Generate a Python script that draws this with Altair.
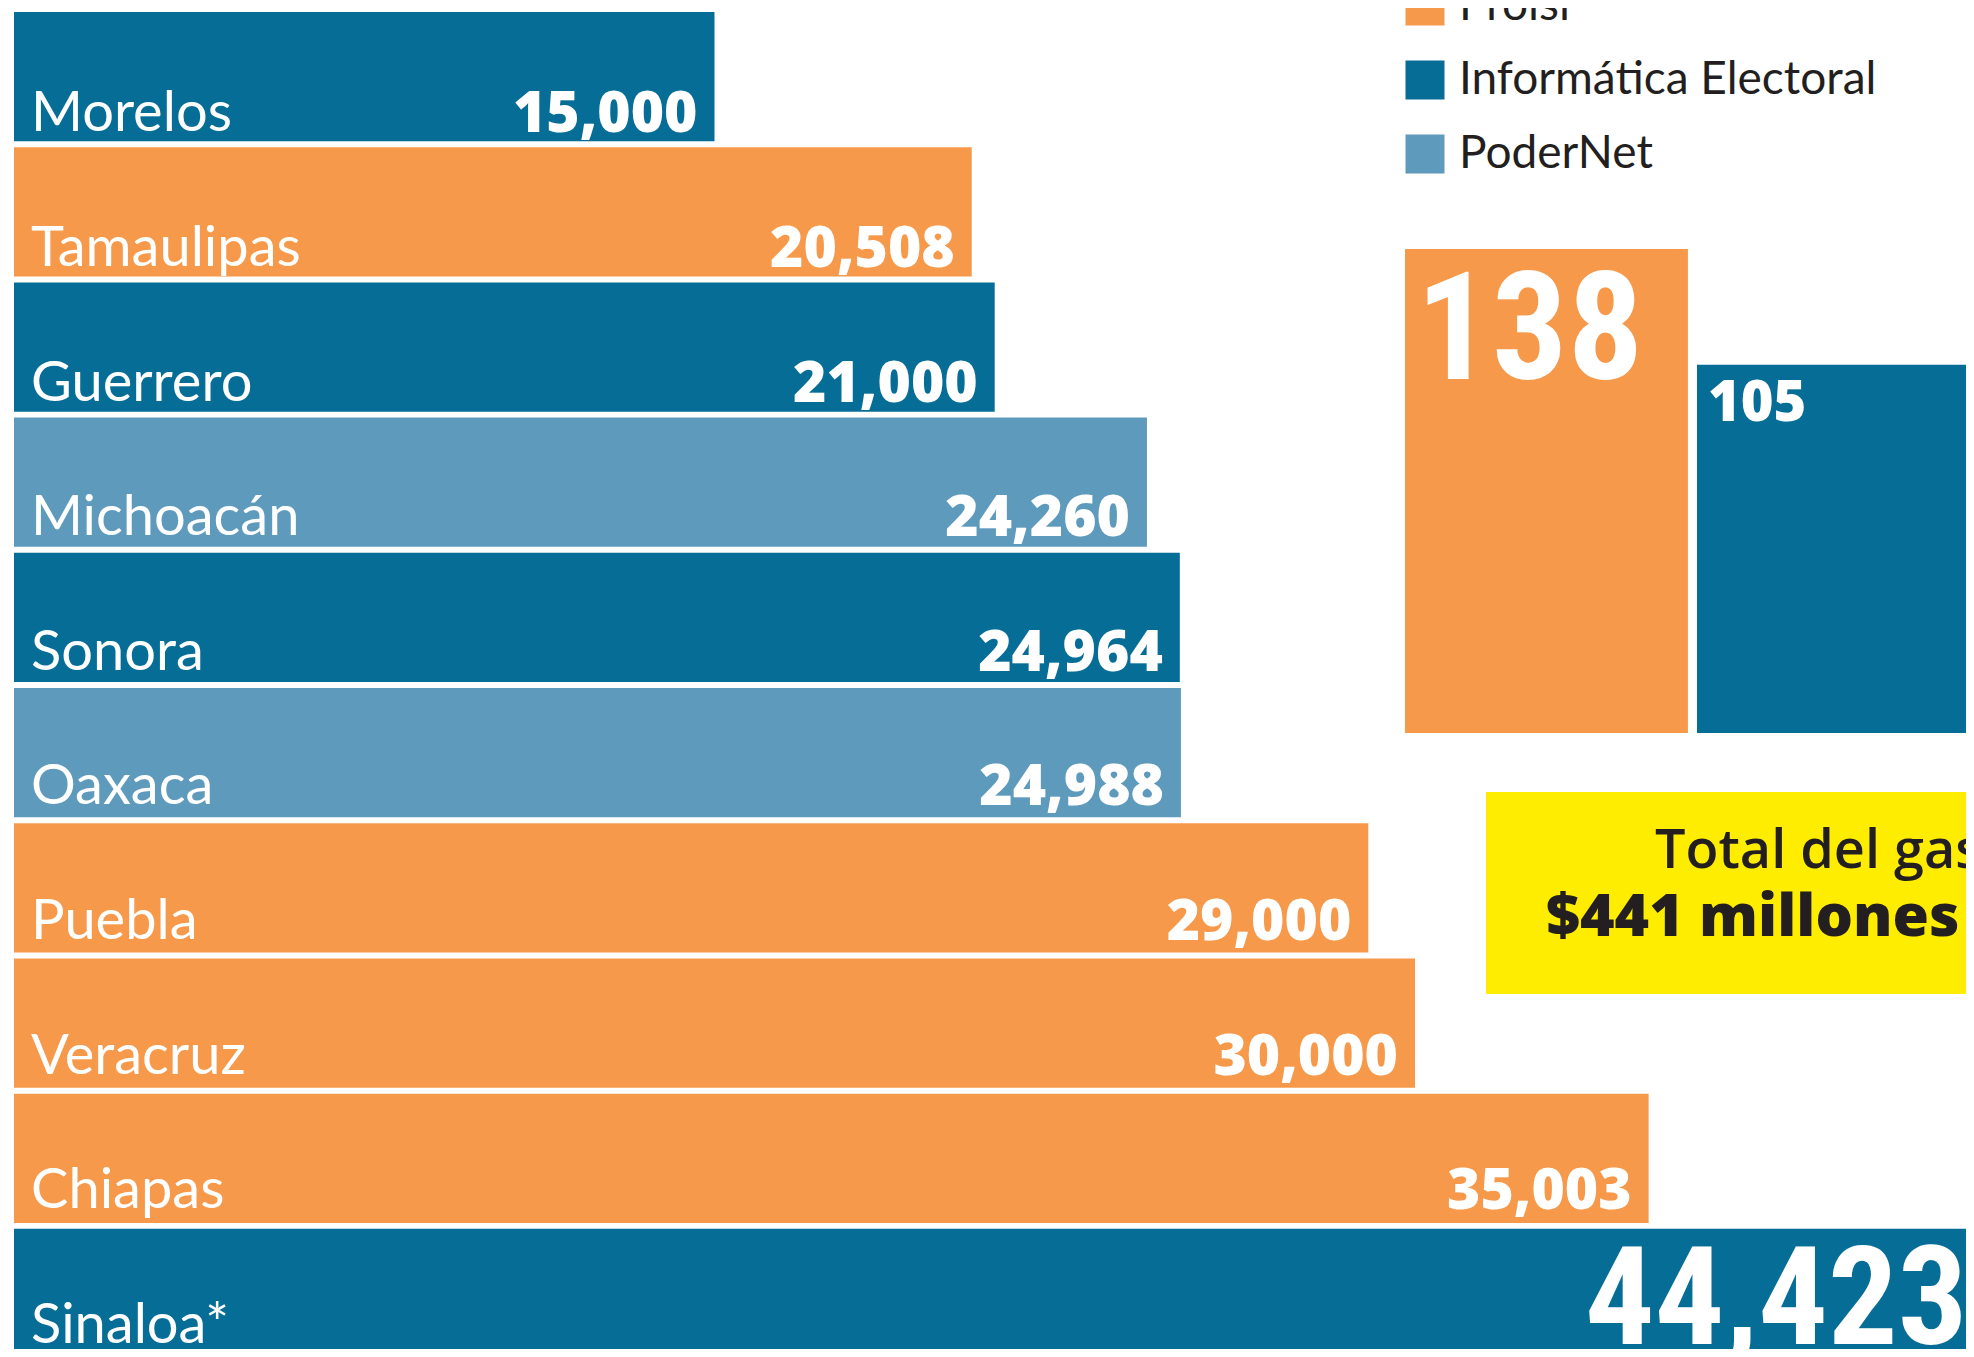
import altair as alt
import pandas as pd

# ---- data ----
states = ["Morelos", "Tamaulipas", "Guerrero", "Michoacán", "Sonora",
          "Oaxaca", "Puebla", "Veracruz", "Chiapas", "Sinaloa*"]
amounts = [15000, 20508, 21000, 24260, 24964, 24988, 29000, 30000, 35003, 44423]
providers = ["Informática Electoral", "Proisi", "Informática Electoral", "PoderNet",
             "Informática Electoral", "PoderNet", "Proisi", "Proisi", "Proisi",
             "Informática Electoral"]

companies = ["Proisi", "Informática Electoral", "PoderNet"]
company_colors = ["#F7994A", "#066E96", "#5E9ABC"]

side_companies = ["Proisi", "Informática Electoral"]
side_values = [138, 105]

total_title = ["Total del gasto"]
total_amount = ["$441 millones de pesos"]

W, H = 1958, 1341
DARK = "#231F20"
LABEL_FONT = "Lato"
VALUE_FONT = "Open Sans"
NARROW_FONT = ("'Noto Sans ExtraCondensed', 'Noto Sans Condensed', 'Roboto Condensed', "
               "'Open Sans Condensed', 'Liberation Sans Narrow', "
               "'DejaVu Sans Condensed', 'Arial Narrow', 'Noto Sans CJK SC'")

states_df = pd.DataFrame({"estado": states, "monto": amounts, "empresa": providers})
side_df = pd.DataFrame({"empresa": side_companies, "cantidad": side_values})

color = alt.Color(
    "empresa:N",
    scale=alt.Scale(domain=companies, range=company_colors),
    legend=alt.Legend(
        title=None, orient="none", legendX=1394, legendY=-25, direction="vertical",
        symbolType="square", symbolSize=1521, symbolStrokeWidth=0, symbolOpacity=1,
        labelFont=LABEL_FONT, labelFontSize=46, labelColor=DARK, labelOffset=11,
        rowPadding=28, padding=0, labelLimit=1000,
    ),
)


def x_left(field="monto"):
    return alt.X(f"{field}:Q",
                 scale=alt.Scale(domain=[0, 30000], range=[6, 1407], nice=False, zero=False),
                 axis=None)


y_left = alt.Y("estado:N",
               scale=alt.Scale(domain=states, range=[4, 1350.1], paddingInner=0.044, paddingOuter=0),
               axis=None)

x_right = alt.X("empresa:N",
                scale=alt.Scale(domain=companies, range=[1397, 2263.9],
                                paddingInner=0.031, paddingOuter=0),
                axis=None)
HALF_BAND = 141.5

y_right = alt.Y("cantidad:Q",
                scale=alt.Scale(domain=[0, 138], range=[725, 241], nice=False, zero=True),
                axis=None)

base_left = alt.Chart(states_df)

bars = base_left.mark_bar().encode(x=x_left(), y=y_left, color=color)

state_labels = base_left.transform_calculate(base="0").mark_text(
    align="left", baseline="alphabetic", dx=17, dy=52,
    font=LABEL_FONT, fontSize=56, color="white",
).encode(x=x_left("base"), y=y_left, text="estado:N")

value_labels = base_left.transform_filter(alt.datum.estado != "Sinaloa*").mark_text(
    align="right", baseline="alphabetic", dx=-17, dy=53,
    font=VALUE_FONT, fontWeight=800, fontSize=57, color="white",
).encode(x=x_left(), y=y_left, text=alt.Text("monto:Q", format=","))

big_label = base_left.transform_filter(alt.datum.estado == "Sinaloa*").mark_text(
    align="right", baseline="alphabetic", dx=-121, dy=53,
    font=NARROW_FONT, fontWeight="bold", fontSize=138, color="white",
).encode(x=x_left(), y=y_left, text=alt.Text("monto:Q", format=","))

base_right = alt.Chart(side_df)

side_bars = base_right.mark_bar().encode(x=x_right, y=y_right, color=color)

side_big = base_right.transform_filter(alt.datum.empresa == "Proisi").mark_text(
    align="left", baseline="alphabetic", dx=8 - HALF_BAND, dy=130,
    font=NARROW_FONT, fontWeight="bold", fontSize=150, color="white",
).encode(x=x_right, y=y_right, text="cantidad:Q")

side_small = base_right.transform_filter(alt.datum.empresa != "Proisi").mark_text(
    align="left", baseline="alphabetic", dx=11 - HALF_BAND, dy=56,
    font=VALUE_FONT, fontWeight=800, fontSize=56, color="white",
).encode(x=x_right, y=y_right, text="cantidad:Q")

box_df = pd.DataFrame({"titulo": total_title, "monto": total_amount})
box = alt.Chart(box_df).mark_rect(color="#FFED00").encode(
    x=alt.value(1478), x2=alt.value(W), y=alt.value(784), y2=alt.value(986))
box_title = alt.Chart(box_df).mark_text(
    align="left", baseline="alphabetic", font=VALUE_FONT, fontWeight=600,
    fontSize=54, color=DARK,
).encode(x=alt.value(1647), y=alt.value(860), text="titulo:N")
box_amount = alt.Chart(box_df).mark_text(
    align="left", baseline="alphabetic", font=VALUE_FONT, fontWeight=800,
    fontSize=59, color=DARK,
).encode(x=alt.value(1538), y=alt.value(928), text="monto:N")

chart = alt.layer(
    bars, state_labels, value_labels, big_label,
    side_bars, side_big, side_small,
    box, box_title, box_amount,
).resolve_scale(x="independent", y="independent").properties(
    width=W, height=H, padding=0,
    autosize=alt.AutoSizeParams(type="none"), background="white",
).configure_view(stroke=None)

chart.save("out.html", embed_options={"renderer": "svg", "actions": False})
